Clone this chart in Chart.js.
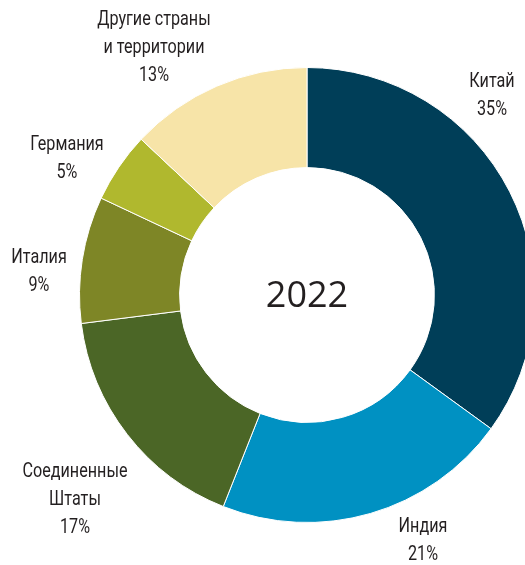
<!DOCTYPE html>
<html>
<head>
    <title>2022 - доли по странам</title>
    <script src="https://cdn.jsdelivr.net/npm/chart.js"></script>
    <style>
        html, body {
            margin: 0;
            padding: 0;
            background: #fff;
            overflow: hidden;
        }
        .container {
            width: 614px;
            height: 565px;
            position: relative;
        }
    </style>
</head>
<body>
    <div class="container">
        <canvas id="shareChart"></canvas>
    </div>

    <script>
        // Data (percent)
        const countries = ['Китай', 'Индия', 'Соединенные Штаты', 'Италия', 'Германия', 'Другие страны и территории'];
        const shares = [35, 21, 17, 9, 5, 13];
        const sliceColors = ['#003e58', '#0091c2', '#4b6626', '#7e8626', '#b0b82e', '#f7e4a8'];
        const centerLabel = '2022';

        // label lines as they are broken in the picture
        const labelLines = [
            ['Китай'],
            ['Индия'],
            ['Соединенные', 'Штаты'],
            ['Италия'],
            ['Германия'],
            ['Другие страны', 'и территории']
        ];
        // label block centre, relative to the doughnut centre
        const labelOffsets = [
            [185, -199], [116, 246], [-232, 205], [-268, -23], [-240, -136], [-153, -247]
        ];

        const labelFont = '21px Roboto, "Noto Sans", sans-serif';
        const squeeze = 0.77;   // the original uses a condensed face
        const lineHeight = 28;

        const outsideLabels = {
            id: 'outsideLabels',
            afterDraw(chart) {
                const ctx = chart.ctx;
                const arc = chart.getDatasetMeta(0).data[0];
                const cx = arc.x, cy = arc.y;
                ctx.save();
                ctx.fillStyle = '#231f20';
                ctx.textAlign = 'center';
                ctx.textBaseline = 'middle';
                ctx.font = labelFont;
                shares.forEach((v, i) => {
                    const lines = labelLines[i].concat([v + '%']);
                    const bx = cx + labelOffsets[i][0];
                    const by = cy + labelOffsets[i][1];
                    const top = by - (lines.length - 1) * lineHeight / 2;
                    lines.forEach((t, j) => {
                        ctx.save();
                        ctx.translate(bx, top + j * lineHeight);
                        ctx.scale(squeeze, 1);
                        ctx.fillText(t, 0, 0);
                        ctx.restore();
                    });
                });
                // year in the hole
                ctx.font = '36px "Open Sans", "Noto Sans", sans-serif';
                ctx.fillText(centerLabel, cx, cy + 2);
                ctx.restore();
            }
        };

        const ctx = document.getElementById('shareChart').getContext('2d');
        new Chart(ctx, {
            type: 'doughnut',
            data: {
                labels: countries,
                datasets: [{
                    data: shares,
                    backgroundColor: sliceColors,
                    borderColor: '#ffffff',
                    borderWidth: 1
                }]
            },
            options: {
                responsive: true,
                maintainAspectRatio: false,
                animation: false,
                cutout: '56%',
                layout: {
                    padding: { left: 79, right: 79, top: 67, bottom: 42 }
                },
                plugins: {
                    legend: { display: false },
                    tooltip: { enabled: false }
                }
            },
            plugins: [outsideLabels]
        });
    </script>
</body>
</html>
